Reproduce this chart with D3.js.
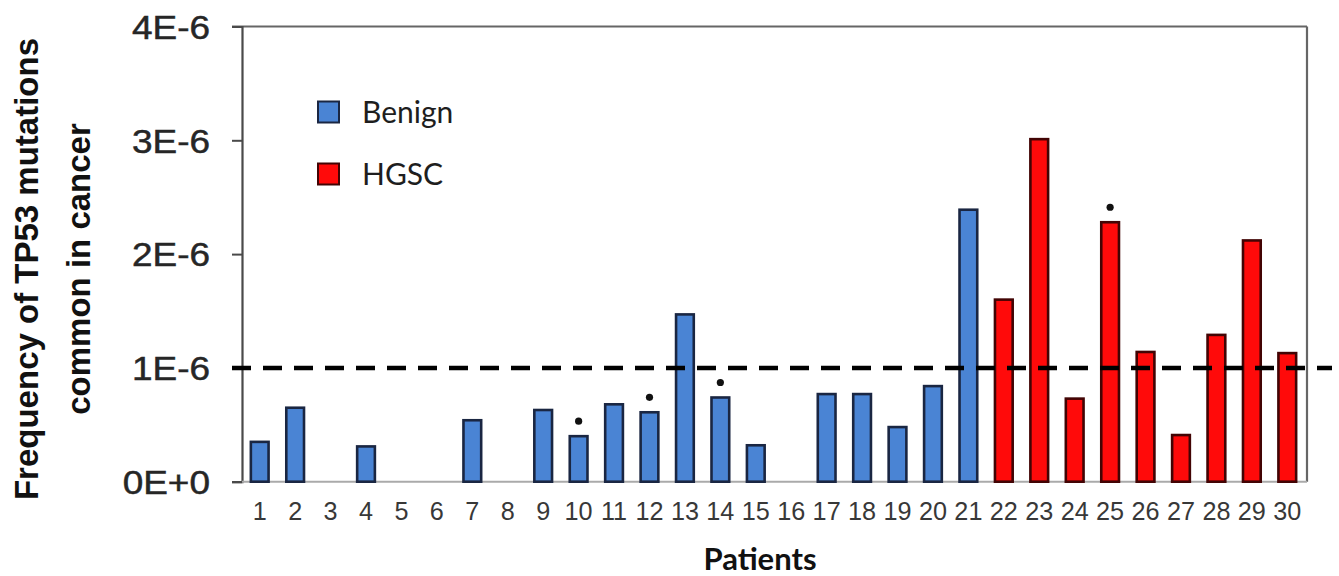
<!DOCTYPE html>
<html>
<head>
<meta charset="utf-8">
<script src="https://cdn.jsdelivr.net/npm/d3@7/dist/d3.min.js"></script>
<style>
  html, body { margin: 0; padding: 0; background: #fff; }
  svg { display: block; }
</style>
</head>
<body>
<svg id="chart" width="1339" height="576"></svg>
<script>
// Patients 1-30 and the frequency of cancer-associated TP53 mutations
const patients = d3.range(1, 31).map(String);
const frequency = [
  0.35e-6, 0.65e-6, 0, 0.31e-6, 0, 0, 0.54e-6, 0, 0.63e-6, 0.40e-6,
  0.68e-6, 0.61e-6, 1.47e-6, 0.74e-6, 0.32e-6, 0, 0.77e-6, 0.77e-6, 0.48e-6, 0.84e-6,
  2.39e-6, 1.60e-6, 3.01e-6, 0.73e-6, 2.28e-6, 1.14e-6, 0.41e-6, 1.29e-6, 2.12e-6, 1.13e-6
];
const group = [
  "Benign","Benign","Benign","Benign","Benign","Benign","Benign","Benign","Benign","Benign",
  "Benign","Benign","Benign","Benign","Benign","Benign","Benign","Benign","Benign","Benign",
  "Benign","HGSC","HGSC","HGSC","HGSC","HGSC","HGSC","HGSC","HGSC","HGSC"
];
const markedPatients = ["10", "12", "14", "25"];
const threshold = 1e-6;
const yTicks = [0, 1e-6, 2e-6, 3e-6, 4e-6];
const yTickLabels = ["0E+0", "1E-6", "2E-6", "3E-6", "4E-6"];
const groups = ["Benign", "HGSC"];

const fills = { Benign: "#4a84d4", HGSC: "#ff0a0a" };
const strokes = { Benign: "#1a2642", HGSC: "#420404" };

const svg = d3.select("#chart");
const plotLeft = 242, plotRight = 1307, plotTop = 26.5, plotBottom = 481.7;

const x = d3.scaleBand().domain(patients).range([plotLeft, plotRight - 2])
  .paddingInner(0.5).paddingOuter(0.25);
const y = d3.scaleLinear().domain([0, 4e-6]).range([plotBottom, plotTop]);

// plot frame: top and right edges
svg.append("line").attr("x1", plotLeft - 10).attr("x2", plotRight).attr("y1", plotTop).attr("y2", plotTop)
  .attr("stroke", "#666").attr("stroke-width", 2.2);
svg.append("line").attr("x1", plotRight).attr("x2", plotRight).attr("y1", plotTop).attr("y2", plotBottom)
  .attr("stroke", "#666").attr("stroke-width", 2.2);

// y axis
const yAxis = svg.append("g").attr("transform", `translate(${plotLeft},0)`)
  .call(d3.axisLeft(y).tickValues(yTicks).tickSize(10).tickPadding(0)
    .tickFormat((d, i) => yTickLabels[i]));
yAxis.select(".domain").attr("stroke", "#4a4a4a").attr("stroke-width", 2.2);
yAxis.selectAll(".tick line").attr("stroke", "#4a4a4a").attr("stroke-width", 2);
yAxis.selectAll(".tick text")
  .attr("font-family", "'Liberation Sans', Arial, sans-serif")
  .attr("font-size", 33).attr("fill", "#262626")
  .attr("stroke", "#262626").attr("stroke-width", 0.5)
  .attr("dy", "0.36em")
  .attr("x", 0)
  .attr("transform", "translate(-32,0) scale(1.12,1)");

// x axis
const xAxis = svg.append("g").attr("transform", `translate(0,${plotBottom})`)
  .call(d3.axisBottom(x).tickSize(0).tickPadding(0));
xAxis.select(".domain").attr("stroke", "#aaa").attr("stroke-width", 2)
  .attr("d", `M${plotLeft},0H${plotRight}`);
xAxis.selectAll(".tick text")
  .attr("font-family", "'Liberation Sans', Arial, sans-serif")
  .attr("font-size", 26).attr("fill", "#383838")
  .attr("dy", 0).attr("y", 0)
  .attr("transform", "translate(0,38.5) scale(0.97,1)");

// bars
const rows = patients.map((p, i) => ({ patient: p, value: frequency[i], group: group[i] }));
svg.append("g").selectAll("rect").data(rows.filter(d => d.value > 0)).join("rect")
  .attr("x", d => x(d.patient))
  .attr("y", d => y(d.value))
  .attr("width", x.bandwidth())
  .attr("height", d => y(0) - y(d.value))
  .attr("fill", d => fills[d.group])
  .attr("stroke", d => strokes[d.group])
  .attr("stroke-width", 2.6);

// significance markers above selected bars
svg.append("g").selectAll("circle")
  .data(rows.filter(d => markedPatients.includes(d.patient))).join("circle")
  .attr("cx", d => x(d.patient) + x.bandwidth() / 2)
  .attr("cy", d => y(d.value) - 15)
  .attr("r", 3.6).attr("fill", "#111");

// threshold line at 1E-6
svg.append("line")
  .attr("x1", plotLeft - 10).attr("x2", 1332)
  .attr("y1", y(threshold)).attr("y2", y(threshold))
  .attr("stroke", "#000").attr("stroke-width", 4.5)
  .attr("stroke-dasharray", "19,12");

// legend
const legend = svg.append("g");
groups.forEach((g, i) => {
  const cy = 111.5 + i * 62;
  legend.append("rect").attr("x", 318).attr("y", cy - 10).attr("width", 21).attr("height", 21)
    .attr("fill", fills[g]).attr("stroke", strokes[g]).attr("stroke-width", 2);
  legend.append("text").attr("x", 362).attr("y", cy + 11)
    .attr("font-family", "Lato, 'Open Sans', sans-serif").attr("font-size", 30)
    .attr("fill", "#1e1e1e").text(g);
});

// axis titles
const yTitle = svg.append("g").attr("font-family", "'Liberation Sans', Arial, sans-serif")
  .attr("font-weight", "bold").attr("font-size", 33).attr("fill", "#111")
  .attr("text-anchor", "middle");
yTitle.append("text").attr("transform", "translate(38,269) rotate(-90)")
  .text("Frequency of TP53 mutations");
yTitle.append("text").attr("transform", "translate(90,269) rotate(-90)")
  .text("common in cancer");

svg.append("text").attr("x", 760).attr("y", 570)
  .attr("text-anchor", "middle")
  .attr("font-family", "Lato, 'Open Sans', sans-serif").attr("font-weight", "bold")
  .attr("font-size", 31).attr("fill", "#111")
  .text("Patients");
</script>
</body>
</html>
